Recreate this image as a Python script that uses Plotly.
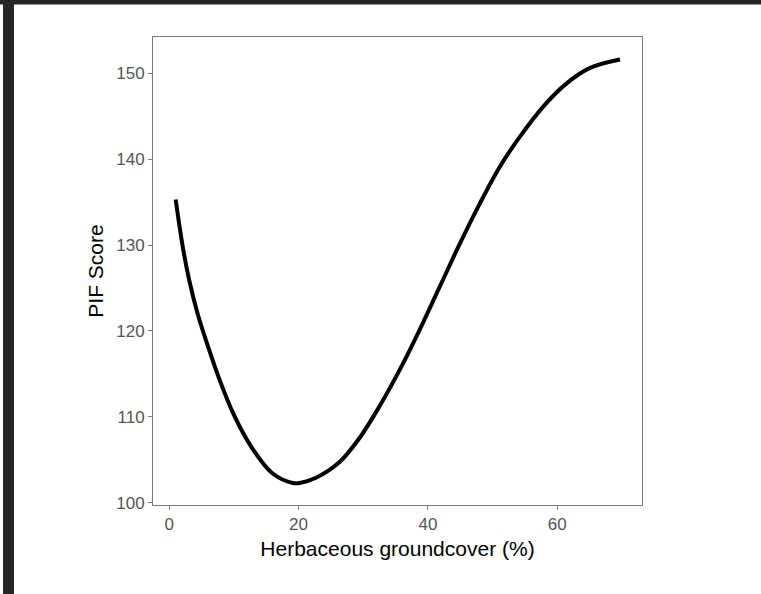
import plotly.graph_objects as go

# Fitted PIF score along the herbaceous groundcover gradient
groundcover_pct = [1.0, 2.1, 3.1, 4.4, 6.0, 7.8, 9.9, 12.7, 16.0, 19.1, 20.2,
                   22.7, 26.3, 29.4, 32.5, 35.6, 38.2, 41.8, 44.9, 48.0, 51.1,
                   54.2, 57.8, 61.4, 65.0, 69.7]
pif_score = [135.3, 129.8, 125.9, 122.0, 118.2, 114.3, 110.4, 106.5, 103.4,
             102.3, 102.3, 102.9, 104.7, 107.5, 111.2, 115.4, 119.3, 125.1,
             130.1, 134.8, 139.1, 142.6, 146.1, 148.8, 150.6, 151.6]

x_ticks = [0, 20, 40, 60]
y_ticks = [100, 110, 120, 130, 140, 150]

W, H = 761, 594
M_L, M_R, M_T, M_B = 153, 119, 37, 89
plot_w = W - M_L - M_R
plot_h = H - M_T - M_B


def px_to_paper_x(px):
    return (px - M_L) / plot_w


def px_to_paper_y(py):
    return (H - M_B - py) / plot_h


FONT = "Liberation Sans, Arial, sans-serif"
TICK_COLOR = "#555555"
FRAME_COLOR = "#7a7a7a"

fig = go.Figure()
fig.add_trace(go.Scatter(
    x=groundcover_pct,
    y=pif_score,
    mode="lines",
    line=dict(color="black", width=4, shape="spline", smoothing=1.0),
    hoverinfo="skip",
    showlegend=False,
))

axis_common = dict(
    showgrid=False,
    zeroline=False,
    showline=True,
    mirror=True,
    linecolor=FRAME_COLOR,
    linewidth=1,
    ticks="outside",
    ticklen=4,
    tickwidth=1,
    tickcolor=FRAME_COLOR,
    tickfont=dict(family=FONT, size=17, color=TICK_COLOR),
)

fig.update_xaxes(
    range=[-2.5, 73.1],
    tickvals=x_ticks,
    ticktext=[str(v) for v in x_ticks],
    title=dict(text="Herbaceous groundcover (%)",
               font=dict(family=FONT, size=21, color="black"),
               standoff=7),
    **axis_common,
)
fig.update_yaxes(
    range=[99.73, 154.23],
    tickvals=y_ticks,
    ticktext=[str(v) for v in y_ticks],
    title=dict(text="PIF Score",
               font=dict(family=FONT, size=21, color="black"),
               standoff=6),
    **axis_common,
)

# dark window edge along the top and left of the page
edge_color = "#262626"
fig.add_shape(type="rect", xref="paper", yref="paper", layer="above",
              x0=px_to_paper_x(0), x1=px_to_paper_x(W),
              y0=px_to_paper_y(4.5), y1=px_to_paper_y(0),
              fillcolor=edge_color, line=dict(width=0))
fig.add_shape(type="rect", xref="paper", yref="paper", layer="above",
              x0=px_to_paper_x(3), x1=px_to_paper_x(14),
              y0=px_to_paper_y(H), y1=px_to_paper_y(0),
              fillcolor=edge_color, line=dict(width=0))

fig.update_layout(
    width=W,
    height=H,
    autosize=False,
    margin=dict(l=M_L, r=M_R, t=M_T, b=M_B, pad=0),
    paper_bgcolor="white",
    plot_bgcolor="white",
    font=dict(family=FONT),
)

fig.write_html("out.html")
